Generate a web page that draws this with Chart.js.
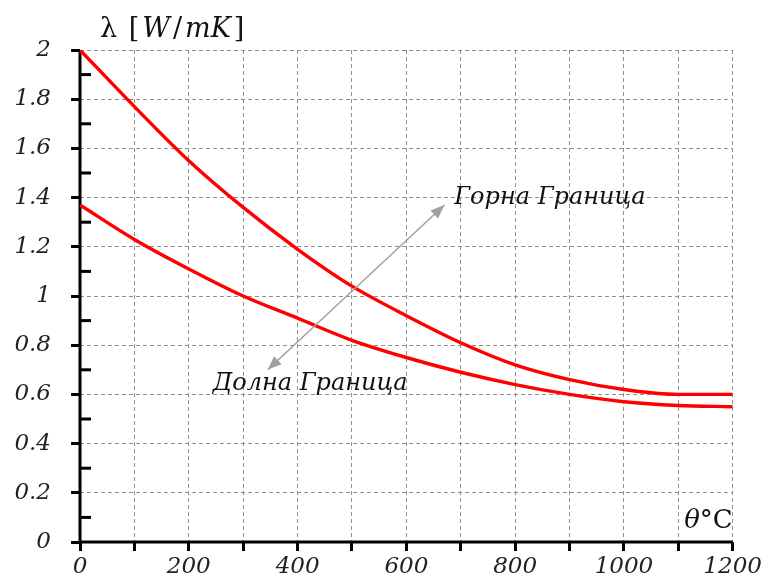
<!DOCTYPE html>
<html>
<head>
<meta charset="utf-8">
<script src="https://cdn.jsdelivr.net/npm/chart.js@4.4.1/dist/chart.umd.min.js"></script>
<style>
  html, body { margin: 0; padding: 0; background: #fff; }
  #wrap { position: relative; width: 764px; height: 583px; }
</style>
</head>
<body>
<div id="wrap"><canvas id="lambdaChart"></canvas></div>
<script>
// temperature points (°C) and conductivity
const temps = [0, 100, 200, 300, 400, 500, 600, 700, 800, 900, 1000, 1100, 1200];
const upperLimit = [2.00, 1.77, 1.55, 1.36, 1.19, 1.04, 0.92, 0.81, 0.72, 0.66, 0.62, 0.60, 0.60];
const lowerLimit = [1.37, 1.23, 1.11, 1.00, 0.91, 0.82, 0.75, 0.69, 0.64, 0.60, 0.57, 0.555, 0.55];
const minorYTicks = [0.1, 0.3, 0.5, 0.7, 0.9, 1.1, 1.3, 1.5, 1.7, 1.9];

const upperLabel = 'Горна Граница';
const lowerLabel = 'Долна Граница';
// annotation anchors in data units: arrow from [x,y] to [x,y]
const arrowFrom = [345, 0.70];
const arrowTo = [670, 1.37];
const upperLabelAt = [688, 1.40];
const lowerLabelAt = [244, 0.645];

const serif = '"DejaVu Serif", "Liberation Serif", serif';

function arrowHead(ctx, x1, y1, x2, y2, size) {
    const a = Math.atan2(y2 - y1, x2 - x1);
    ctx.beginPath();
    ctx.moveTo(x2, y2);
    ctx.lineTo(x2 - size * Math.cos(a - 0.38), y2 - size * Math.sin(a - 0.38));
    ctx.lineTo(x2 - size * Math.cos(a + 0.38), y2 - size * Math.sin(a + 0.38));
    ctx.closePath();
    ctx.fill();
}

const extras = {
    id: 'extras',
    beforeDatasetsDraw(chart) {
        // solid axis lines (the scale border would pick up the grid dash)
        const ctx = chart.ctx;
        const area = chart.chartArea;
        ctx.save();
        ctx.strokeStyle = '#000';
        ctx.lineWidth = 3;
        ctx.setLineDash([]);
        ctx.beginPath();
        ctx.moveTo(area.left, area.top);
        ctx.lineTo(area.left, area.bottom);
        ctx.lineTo(area.right, area.bottom);
        ctx.stroke();
        ctx.restore();
    },
    afterDraw(chart) {
        const ctx = chart.ctx;
        const xs = chart.scales.x, ys = chart.scales.y;
        const area = chart.chartArea;
        ctx.save();

        // minor inward ticks on the y axis
        ctx.strokeStyle = '#000';
        ctx.lineWidth = 3;
        minorYTicks.forEach(v => {
            const y = ys.getPixelForValue(v);
            ctx.beginPath();
            ctx.moveTo(area.left, y);
            ctx.lineTo(area.left + 11, y);
            ctx.stroke();
        });

        // double arrow
        const ax1 = xs.getPixelForValue(arrowFrom[0]), ay1 = ys.getPixelForValue(arrowFrom[1]);
        const ax2 = xs.getPixelForValue(arrowTo[0]), ay2 = ys.getPixelForValue(arrowTo[1]);
        ctx.strokeStyle = '#a0a0a0';
        ctx.fillStyle = '#a0a0a0';
        ctx.lineWidth = 1.5;
        ctx.beginPath();
        ctx.moveTo(ax1, ay1);
        ctx.lineTo(ax2, ay2);
        ctx.stroke();
        arrowHead(ctx, ax1, ay1, ax2, ay2, 15);
        arrowHead(ctx, ax2, ay2, ax1, ay1, 15);

        // curve labels
        ctx.fillStyle = '#111';
        ctx.font = 'italic 24px ' + serif;
        ctx.textAlign = 'left';
        ctx.textBaseline = 'middle';
        ctx.fillText(upperLabel, xs.getPixelForValue(upperLabelAt[0]), ys.getPixelForValue(upperLabelAt[1]));
        ctx.fillText(lowerLabel, xs.getPixelForValue(lowerLabelAt[0]), ys.getPixelForValue(lowerLabelAt[1]));

        // axis titles
        ctx.textBaseline = 'alphabetic';
        let x = 100;
        const parts = [['λ ', 'normal'], ['[', 'normal'], ['W', 'italic'], ['/', 'normal'], ['mK', 'italic'], [']', 'normal']];
        parts.forEach(p => {
            ctx.font = p[1] + ' 27px ' + serif;
            ctx.fillText(p[0], x, 37);
            x += ctx.measureText(p[0]).width + 3;
        });
        ctx.textAlign = 'right';
        ctx.font = 'normal 26px ' + serif;
        const cw = ctx.measureText('°C').width;
        ctx.fillText('°C', area.right, 528);
        ctx.font = 'italic 26px ' + serif;
        ctx.fillText('θ', area.right - cw, 528);

        ctx.restore();
    }
};

const gridStyle = {
    color: '#8f8f8f',
    lineWidth: 1,
    tickColor: '#000',
    tickWidth: 3,
    tickLength: 9,
    tickBorderDash: []
};
const borderStyle = { display: false, dash: [4, 3] };

new Chart(document.getElementById('lambdaChart'), {
    type: 'line',
    data: {
        datasets: [
            {
                label: upperLabel,
                data: temps.map((t, i) => ({ x: t, y: upperLimit[i] })),
                borderColor: '#ff0000',
                borderWidth: 3.4,
                pointRadius: 0,
                cubicInterpolationMode: 'monotone'
            },
            {
                label: lowerLabel,
                data: temps.map((t, i) => ({ x: t, y: lowerLimit[i] })),
                borderColor: '#ff0000',
                borderWidth: 3.4,
                pointRadius: 0,
                cubicInterpolationMode: 'monotone'
            }
        ]
    },
    options: {
        responsive: true,
        maintainAspectRatio: false,
        animation: false,
        layout: { padding: { top: 50, right: 30, left: 0, bottom: 0 } },
        plugins: { legend: { display: false }, tooltip: { enabled: false } },
        scales: {
            x: {
                type: 'linear',
                min: 0,
                max: 1200,
                grid: gridStyle,
                border: borderStyle,
                ticks: {
                    stepSize: 100,
                    padding: 2,
                    maxRotation: 0,
                    autoSkip: false,
                    color: '#222',
                    font: { family: serif, style: 'italic', size: 23 },
                    callback: v => (v % 200 === 0 ? String(v) : '')
                },
                afterFit: s => { s.height = 41; }
            },
            y: {
                min: 0,
                max: 2,
                grid: gridStyle,
                border: borderStyle,
                ticks: {
                    stepSize: 0.2,
                    padding: 20,
                    color: '#222',
                    font: { family: serif, style: 'italic', size: 23 },
                    callback: v => String(Math.round(v * 10) / 10)
                },
                afterFit: s => { s.width = 80; }
            }
        }
    },
    plugins: [extras]
});
</script>
</body>
</html>
